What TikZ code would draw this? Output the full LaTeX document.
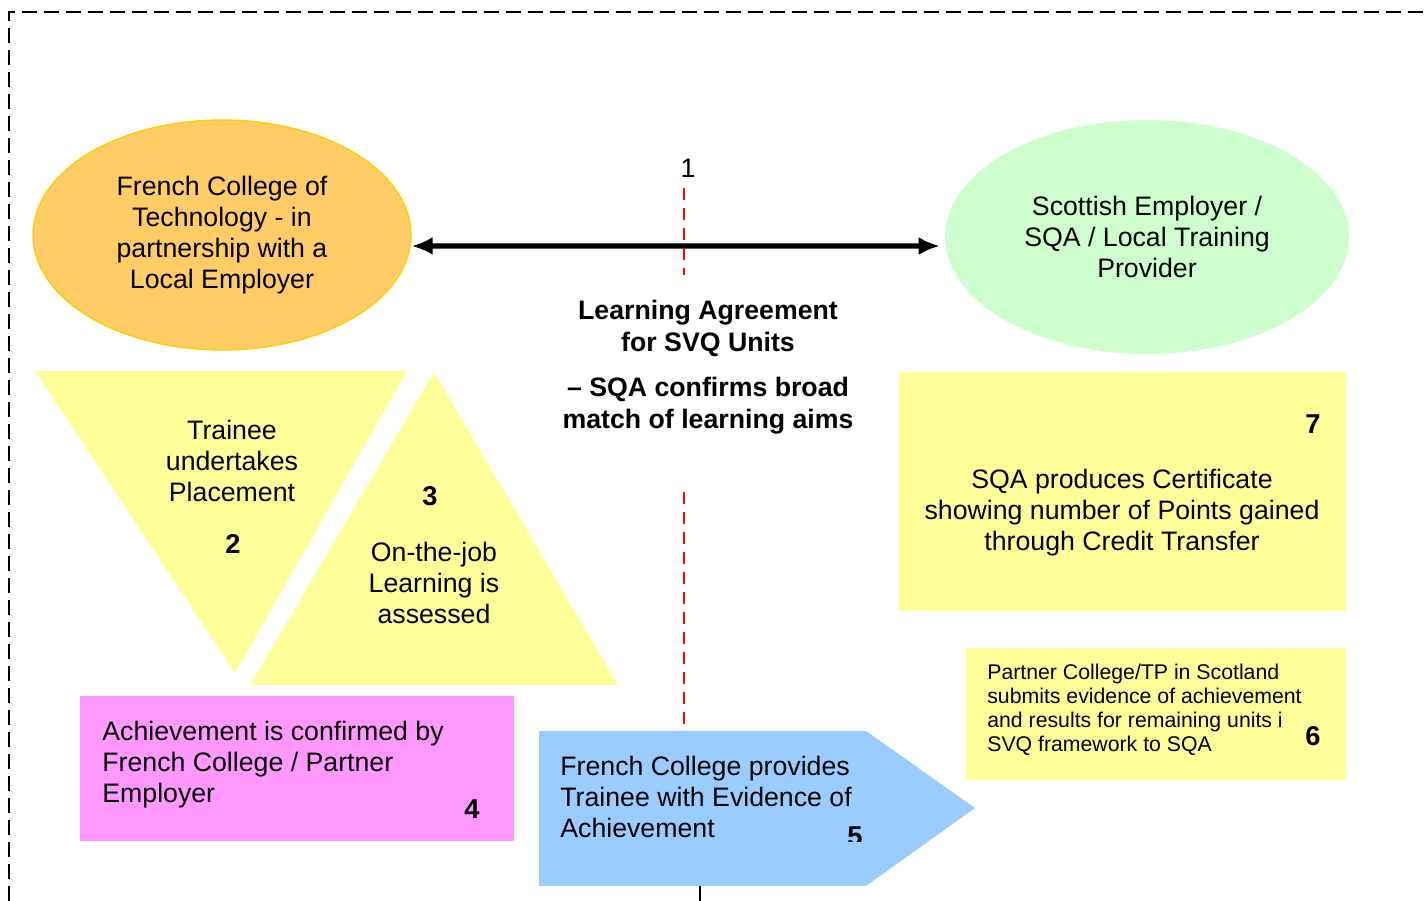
\documentclass[tikz,border=0pt]{standalone}
\usepackage{fontspec}
\setmainfont{Liberation Sans}
\usetikzlibrary{shapes.geometric,arrows.meta}
\definecolor{orangefill}{HTML}{FFCC66}
\definecolor{orangeline}{HTML}{FFCC00}
\definecolor{greenfill}{HTML}{CCFFCC}
\definecolor{yellowfill}{HTML}{FFFF99}
\definecolor{pinkfill}{HTML}{FF99FF}
\definecolor{bluefill}{HTML}{99CCFF}
\tikzset{
  txt/.style={font=\fontsize{15.2}{17.6}\selectfont, align=center, inner sep=0pt},
  lefttxt/.style={font=\fontsize{15.2}{17.6}\selectfont, align=left, inner sep=0pt, anchor=west},
  smalltxt/.style={font=\fontsize{12.1}{13.7}\selectfont, align=left, inner sep=0pt, anchor=west},
  num/.style={font=\fontsize{15.5}{17.6}\selectfont\bfseries, inner sep=0pt},
}
\begin{document}
\begin{tikzpicture}[x=0.02cm, y=-0.02cm, >={Latex[length=0.42cm,width=0.36cm]}]
\useasboundingbox (0,0) rectangle (1428,901);
\draw[line width=1.2pt, dash pattern=on 0.3cm off 0.14cm] (9,901) -- (9,12) -- (1428,12);

% the two partners
\node[ellipse, txt, fill=orangefill, draw=orangeline, line width=0.8pt,
      minimum width=7.56cm, minimum height=4.6cm] (fcol) at (222,235)
      {French College of\\Technology - in\\partnership with a\\Local Employer};
\node[ellipse, txt, fill=greenfill, minimum width=8.08cm, minimum height=4.68cm] (scot) at (1147,237)
      {Scottish Employer /\\SQA / Local Training\\Provider};
\draw[<->, line width=3pt] ([yshift=-0.22cm]fcol.east) -- ([xshift=-0.1cm,yshift=-0.18cm]scot.west);

\draw[red, line width=1.1pt, dash pattern=on 0.24cm off 0.16cm] (684,188) -- (684,275);
\draw[red, line width=1.1pt, dash pattern=on 0.24cm off 0.16cm] (684,492) -- (684,730);
\node[txt] (one) at (688,168) {1};
\node[txt, font=\fontsize{15.2}{17.9}\selectfont\bfseries] (agree) at (708,367)
      {Learning Agreement\\for SVQ Units\\[0.28cm]-- SQA confirms broad\\match of learning aims};

% placement and assessment
\fill[yellowfill] (35,371) -- (407,371) -- (235,673) -- cycle;
\node[txt] (place) at (232,461) {Trainee\\undertakes\\Placement};
\node[num] (two) at (233,544) {2};
\fill[yellowfill] (434,372) -- (618,685) -- (250,685) -- cycle;
\node[txt] (assess) at (434,583) {On-the-job\\Learning is\\assessed};
\node[num] (three) at (430,496) {3};

% achievement
\fill[pinkfill] (80,696) rectangle (514,841);
\node[lefttxt] (achieve) at (102,765) {Achievement is confirmed by\\French College / Partner\\Employer};
\node[num] (four) at (472,809) {4};

\fill[bluefill] (539,731) -- (866,731) -- (975,808) -- (866,886) -- (539,886) -- cycle;
\node[lefttxt] (evidence) at (560,797) {French College provides\\Trainee with Evidence of\\Achievement};
\begin{scope}
\clip (820,800) rectangle (900,842);
\node[num] (five) at (855,836) {5};
\end{scope}
\draw[line width=1.2pt] (700,886) -- (700,901);

% certificate
\fill[yellowfill] (899,372) rectangle (1346,611);
\node[txt] (cert) at (1122,513) {SQA produces Certificate\\showing number of Points gained\\through Credit Transfer};
\node[num] (seven) at (1313,424) {7};
\fill[yellowfill] (966,648) rectangle (1346,780);
\node[smalltxt] (submit) at (987,710) {Partner College/TP in Scotland\\submits evidence of achievement\\and results for remaining units i\\SVQ framework to SQA};
\node[num] (six) at (1313,736) {6};
\end{tikzpicture}
\end{document}
